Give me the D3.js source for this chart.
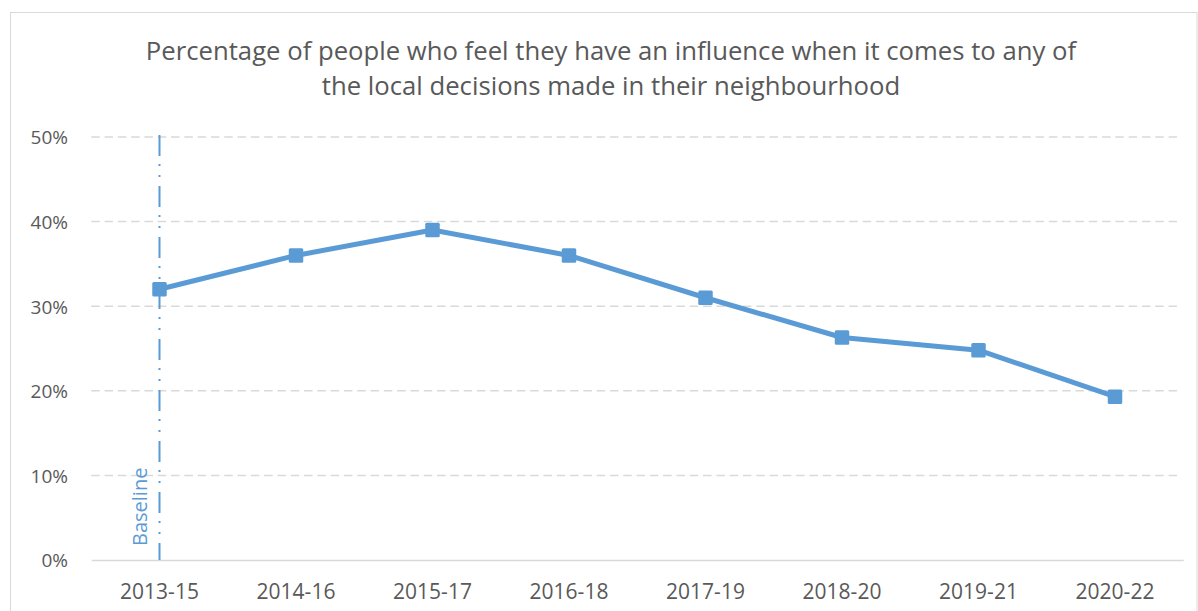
<!DOCTYPE html>
<html>
<head>
<meta charset="utf-8">
<script src="https://cdn.jsdelivr.net/npm/d3@7"></script>
<style>
  html, body { margin: 0; padding: 0; background: #ffffff; }
  svg { display: block; }
  text { font-family: "Open Sans", "Noto Sans", sans-serif; }
</style>
</head>
<body>
<svg id="chart" width="1198" height="611"></svg>
<script>
// Survey periods and share of respondents (%) who feel they can influence local decisions
const periods = ["2013-15", "2014-16", "2015-17", "2016-18", "2017-19", "2018-20", "2019-21", "2020-22"];
const influencePct = [32.0, 36.0, 39.0, 36.0, 31.0, 26.3, 24.8, 19.3];
const yTicks = [0, 10, 20, 30, 40, 50];
const baselinePeriod = "2013-15";
const titleLines = [
  "Percentage of people who feel they have an influence when it comes to any of",
  "the local decisions made in their neighbourhood"
];

const W = 1198, H = 611;
const margin = { left: 91.25, right: 1198 - 1183.25, top: 137, bottom: 611 - 560 };
const lineColor = "#5B9BD5";
const textColor = "#595959";

const svg = d3.select("#chart");

// Outer chart frame
svg.append("rect")
  .attr("x", 10.5).attr("y", 12.5)
  .attr("width", 1186.5).attr("height", 620)
  .attr("fill", "#fff").attr("stroke", "#D9D9D9").attr("stroke-width", 1);

const x = d3.scaleBand().domain(periods)
  .range([margin.left, W - margin.right]).padding(0);
const y = d3.scaleLinear().domain([0, 50])
  .range([H - margin.bottom, margin.top]);

// Title
svg.append("g").selectAll("text").data(titleLines).join("text")
  .attr("x", 611).attr("y", (d, i) => 60 + i * 34.5)
  .attr("text-anchor", "middle")
  .attr("fill", textColor)
  .attr("font-size", 25.7)
  .text(d => d);

// Horizontal dashed gridlines
svg.append("g").selectAll("line").data(yTicks.filter(t => t > 0)).join("line")
  .attr("x1", margin.left).attr("x2", W - margin.right - 5)
  .attr("y1", d => y(d)).attr("y2", d => y(d))
  .attr("stroke", "#D9D9D9").attr("stroke-width", 1.5)
  .attr("stroke-dasharray", "8.5,4.8");

// Y axis labels
const yAxis = d3.axisLeft(y).tickValues(yTicks).tickFormat(d => d + "%").tickSize(0).tickPadding(0);
const gy = svg.append("g").attr("transform", `translate(${68},0)`).call(yAxis);
gy.select(".domain").remove();
gy.selectAll("text").attr("fill", textColor).attr("font-size", 19)
  .attr("font-family", "'Open Sans', sans-serif").attr("dy", "0.36em");

// X axis
const xAxis = d3.axisBottom(x).tickSize(0).tickPadding(0);
const gx = svg.append("g").attr("transform", `translate(0,${y(0)})`).call(xAxis);
gx.select(".domain").attr("stroke", "#D9D9D9").attr("stroke-width", 1.5);
gx.selectAll("text").attr("fill", textColor).attr("font-size", 21)
  .attr("font-family", "'Open Sans', sans-serif").attr("y", 38.5).attr("dy", 0);

// Baseline marker line (dash-dot-dot)
const bx = x(baselinePeriod) + x.bandwidth() / 2;
svg.append("line")
  .attr("x1", bx).attr("x2", bx)
  .attr("y1", y(50) - 2).attr("y2", y(0))
  .attr("stroke", lineColor).attr("stroke-width", 2)
  .attr("stroke-dasharray", "21,8,2,9,2,9");
svg.append("text")
  .attr("transform", `translate(${bx - 13},${y(0) - 14}) rotate(-90)`)
  .attr("fill", lineColor).attr("font-size", 20)
  .text("Baseline");

// Data line
const pts = periods.map((p, i) => ({ p, v: influencePct[i] }));
const cx = d => x(d.p) + x.bandwidth() / 2;
svg.append("path").datum(pts)
  .attr("fill", "none").attr("stroke", lineColor)
  .attr("stroke-width", 5).attr("stroke-linejoin", "round")
  .attr("d", d3.line().x(cx).y(d => y(d.v)));

// Square markers
const ms = 14.5;
svg.append("g").selectAll("rect").data(pts).join("rect")
  .attr("x", d => cx(d) - ms / 2).attr("y", d => y(d.v) - ms / 2)
  .attr("width", ms).attr("height", ms).attr("rx", 1.5)
  .attr("fill", lineColor);
</script>
</body>
</html>
